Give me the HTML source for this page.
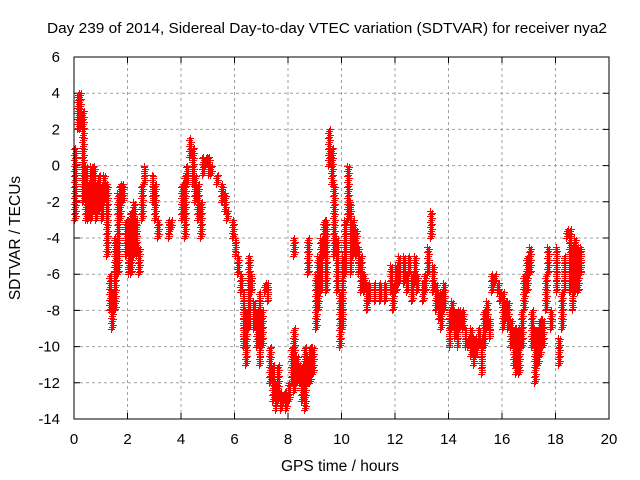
<!DOCTYPE html>
<html><head><meta charset="utf-8"><style>
body{margin:0;background:#fff}
svg{display:block;font-family:"Liberation Sans",sans-serif}
</style></head><body>
<svg id="chart" width="640" height="480">
<rect width="640" height="480" fill="#fff"/>
<text x="327" y="33" font-size="15" text-anchor="middle" textLength="560" lengthAdjust="spacingAndGlyphs">Day 239 of 2014, Sidereal Day-to-day VTEC variation (SDTVAR) for receiver nya2</text>
<g id="grid"></g>
<g id="ticks"></g>
<g id="marks"></g>
<rect x="74" y="57" width="535" height="362" fill="none" stroke="#000" stroke-width="1"/>
<text x="340" y="471" font-size="15.5" text-anchor="middle">GPS time / hours</text>
<text transform="translate(20,238) rotate(-90)" font-size="15.5" text-anchor="middle">SDTVAR / TECUs</text>
</svg>
<script>
const xTicks=[0,2,4,6,8,10,12,14,16,18,20];
const yTicks=[6,4,2,0,-2,-4,-6,-8,-10,-12,-14];
const times=[0,0.1,0.2,0.3,0.4,0.5,0.6,0.7,0.8,0.9,1.0,1.1,1.2,1.3,1.4,1.5,1.6,1.7,1.8,1.9,2.0,2.1,2.2,2.3,2.4,2.5,2.6,2.9,3.0,3.1,3.5,3.6,4.0,4.1,4.2,4.3,4.4,4.5,4.6,4.7,4.8,4.9,5.0,5.1,5.3,5.5,5.6,5.7,5.9,6.0,6.1,6.2,6.3,6.4,6.5,6.6,6.7,6.8,6.9,7.0,7.1,7.2,7.3,7.4,7.5,7.6,7.7,7.8,7.9,8.0,8.1,8.2,8.3,8.4,8.5,8.6,8.7,8.8,8.9,8.2,8.7,9.0,9.1,9.2,9.3,9.4,9.5,9.6,9.7,9.8,9.9,10.0,10.1,10.2,10.3,10.4,10.5,10.6,10.7,10.8,10.9,11.0,11.2,11.4,11.6,11.8,11.9,12.0,12.1,12.3,12.4,12.5,12.6,12.7,12.8,13.0,13.1,13.2,13.3,13.4,13.5,13.6,13.7,13.8,14.0,14.1,14.2,14.3,14.4,14.5,14.6,14.7,14.8,14.9,15.0,15.1,15.2,15.3,15.4,15.5,15.6,15.7,15.8,15.9,16.0,16.1,16.2,16.3,16.4,16.5,16.6,16.7,16.8,16.9,17.0,17.1,17.2,17.3,17.4,17.5,17.6,17.7,17.8,18.0,18.1,18.2,18.3,18.4,18.5,18.6,18.7,18.8,18.9];
const lows=[-3,2,2,-2,-3,-3,-3,-2.5,-3,-2.5,-3,-2,-5,-8,-9,-8,-6,-3,-2,-5,-6,-6,-5,-5,-6,-3,-1,-2,-3,-4,-4,-3.5,-3,-4,-1,0.5,-1,-2,-3,-4,-0.5,0,-0.5,-0.5,-1,-2,-2.5,-3,-4,-5,-6,-7,-10,-11,-9,-7,-9,-10,-11,-10,-7,-7.5,-12,-13,-13.5,-13,-13.5,-13,-13.5,-13,-12,-12.5,-12,-12,-13,-13.5,-12,-12,-11.5,-5,-6,-9,-8,-7,-5,-7,0,-1,-5,-7,-10,-9,-6,-3,-6,-5,-5,-6,-7,-7,-8,-7.5,-7.5,-7.5,-7.5,-7,-8,-7,-6.5,-6.5,-7,-6,-7.5,-6.5,-7,-7.5,-7,-6,-4,-7,-8,-8.5,-9,-8,-10,-9,-9.5,-10,-9,-9,-10,-10,-10.5,-11,-10.5,-10,-11.5,-10,-9,-9.5,-7,-6.5,-7,-7.5,-9,-8.5,-9,-10,-11,-11.5,-11.5,-10,-8,-7,-6,-10,-12,-11,-10.5,-10,-8,-6,-9,-7,-11,-9,-7,-4,-7,-8,-7,-7,-6];
const highs=[1,4,4,3,0,-1,0,0,-1,-0.5,-1,-0.5,-1,-6,-7,-4,-1.5,-1,-1,-3,-3,-2.5,-2,-3,-4.5,-1,0,-0.5,-1,-3,-3,-3,-1,-0.5,0,1.5,1,-0.5,-1,-2,0.5,0.5,0.5,0,-0.5,-1,-1.5,-2.5,-3,-4,-5,-6,-7,-8,-5,-6,-7.5,-8,-7,-8,-6.5,-6.5,-10,-11,-12,-11,-12.5,-12.5,-12.5,-12,-10,-9,-10.5,-11,-11,-10,-10.5,-10,-10,-4,-4,-6,-5,-4,-3,-3,2,1,-1,-4,-7,-5,-3,0,-2,-3,-3.5,-4.5,-5,-6,-6.5,-6.5,-6.5,-6.5,-6.5,-5.5,-6.5,-5.5,-5,-5,-6,-5,-6,-5,-6,-6.5,-6,-4.5,-2.5,-5.5,-6.5,-7,-7,-6.5,-8,-7.5,-8,-8,-8,-8,-9,-9.5,-9,-9.5,-9.5,-9,-9.5,-8,-7.5,-8.5,-6,-6,-6.5,-7,-7,-7.5,-7.5,-8.5,-9,-9,-9,-8,-6,-5,-4.5,-8,-9,-9,-8.5,-8.5,-6,-4.5,-8,-4.5,-9.5,-7,-5,-3.5,-3.5,-4.5,-4,-4.5,-4.5];
const X0=74,X1=609,Y0=419,Y1=57;
function xs(t){return X0+(t-0)/(20-0)*(X1-X0);}
function ys(v){return Y0-(v-(-14))/(6-(-14))*(Y0-Y1);}
const NS='http://www.w3.org/2000/svg';
const grid=document.getElementById('grid'),ticks=document.getElementById('ticks'),marks=document.getElementById('marks');
let gd='',td='';
xTicks.forEach(t=>{const x=xs(t);
 if(t>0&&t<20)gd+=`M${x},${Y0}V${Y1}`;
 td+=`M${x},${Y0}v-6M${x},${Y1}v6`;
 const tx=document.createElementNS(NS,'text');
 tx.setAttribute('x',x);tx.setAttribute('y',444);tx.setAttribute('font-size','15');tx.setAttribute('text-anchor','middle');tx.textContent=t;
 
 
 ticks.appendChild(tx);});
yTicks.forEach(v=>{const y=ys(v);
 if(v>-14&&v<6)gd+=`M${X0},${y}H${X1}`;
 td+=`M${X0},${y}h6M${X1},${y}h-6`;
 const tx=document.createElementNS(NS,'text');
 tx.setAttribute('x',60);tx.setAttribute('y',y+5);tx.setAttribute('font-size','15');tx.setAttribute('text-anchor','end');tx.textContent=v;
 
 
 ticks.appendChild(tx);});
const gp=document.createElementNS(NS,'path');gp.setAttribute('d',gd);gp.setAttribute('stroke','#a0a0a0');gp.setAttribute('stroke-dasharray','3,3');gp.setAttribute('fill','none');


grid.appendChild(gp);
const tp=document.createElementNS(NS,'path');tp.setAttribute('d',td);tp.setAttribute('stroke','#000');tp.setAttribute('fill','none');


ticks.appendChild(tp);
let md='';
times.forEach((t,i)=>{const lo=lows[i],hi=highs[i];
 [0,0.035,0.07].forEach((dt,k)=>{
  for(let v=lo+k*0.1;v<=hi+1e-6;v+=0.3){const x=Math.round(xs(t+dt))+0.5,y=Math.round(ys(v))+0.5;md+=`M${x-3.5},${y}h7M${x},${y-3.5}v7`;}
 });});
const mp=document.createElementNS(NS,'path');mp.setAttribute('d',md);mp.setAttribute('stroke','#ff0000');mp.setAttribute('stroke-width','1');mp.setAttribute('fill','none');mp.setAttribute('shape-rendering','crispEdges');


marks.appendChild(mp);
</script>
</body></html>
